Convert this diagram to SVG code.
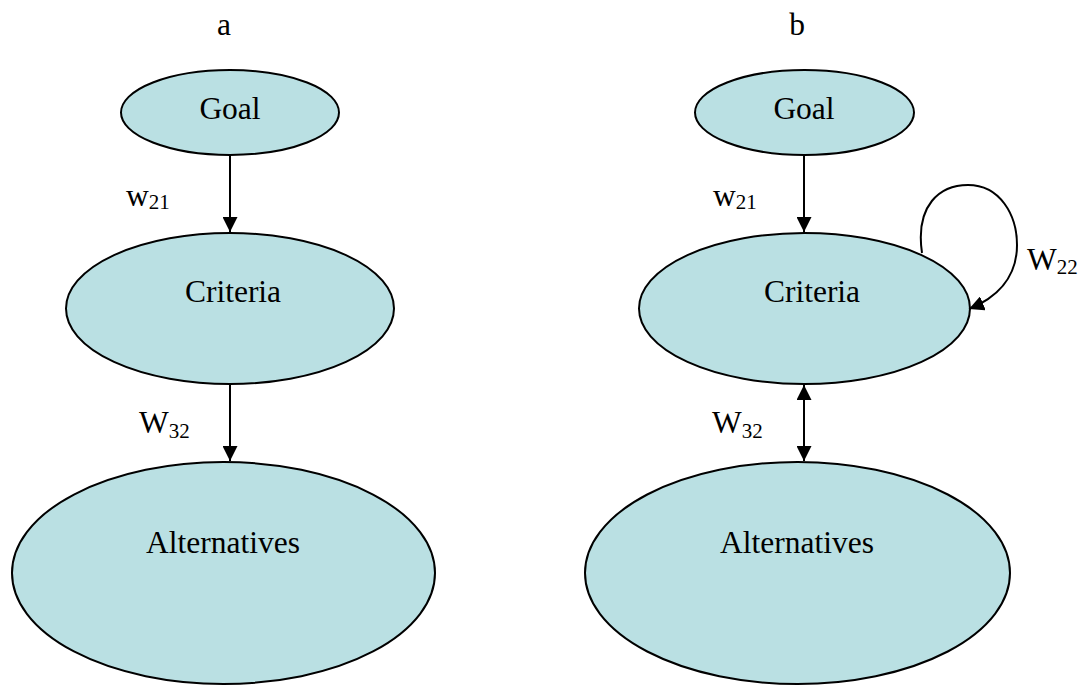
<svg xmlns="http://www.w3.org/2000/svg" width="1080" height="685" viewBox="0 0 1080 685">
<style>
.node{fill:#BAE0E3;stroke:#000;stroke-width:2}
.t{font-family:"Liberation Serif","Times New Roman",serif;font-size:31.5px;fill:#000}
.sub{font-size:21px}
.edge{fill:none;stroke:#000;stroke-width:2}
</style>
<defs>
<marker id="ah" markerUnits="userSpaceOnUse" viewBox="0 0 15 15" refX="15" refY="7.5" markerWidth="15" markerHeight="15" orient="auto-start-reverse">
<path d="M0,0 L15,7.5 L0,15 z" fill="#000"/>
</marker>
</defs>
<rect width="1080" height="685" fill="#fff"/>
<text class="t" x="224" y="35" text-anchor="middle">a</text>
<text class="t" x="797" y="35" text-anchor="middle">b</text>
<g id="a-goal"><ellipse class="node" cx="230" cy="112.5" rx="109" ry="42.5"/><text class="t" x="230" y="119" text-anchor="middle">Goal</text></g>
<g id="a-criteria"><ellipse class="node" cx="230" cy="308.5" rx="164" ry="75.5"/><text class="t" x="233" y="302" text-anchor="middle">Criteria</text></g>
<g id="a-alternatives"><ellipse class="node" cx="223.5" cy="573" rx="211.5" ry="111"/><text class="t" x="223" y="553" text-anchor="middle">Alternatives</text></g>
<g id="b-goal"><ellipse class="node" cx="804.5" cy="112.5" rx="109.5" ry="42.5"/><text class="t" x="804" y="119" text-anchor="middle">Goal</text></g>
<g id="b-criteria"><ellipse class="node" cx="804.5" cy="308.5" rx="165.5" ry="75.5"/><text class="t" x="812" y="302" text-anchor="middle">Criteria</text></g>
<g id="b-alternatives"><ellipse class="node" cx="797.5" cy="573" rx="212.5" ry="111"/><text class="t" x="797" y="553" text-anchor="middle">Alternatives</text></g>
<g id="connectors">
<line class="edge" x1="230" y1="155" x2="230" y2="232" marker-end="url(#ah)"/>
<line class="edge" x1="230" y1="384" x2="230" y2="461" marker-end="url(#ah)"/>
<line class="edge" x1="804" y1="155" x2="804" y2="232" marker-end="url(#ah)"/>
<line class="edge" x1="804" y1="385" x2="804" y2="461" marker-start="url(#ah)" marker-end="url(#ah)"/>
<path class="edge" d="M922,253 C915,205 940,185 968,185 C1000,185 1017,215 1017,245 C1017,278 996,298 969,309" marker-end="url(#ah)"/>
<text class="t" x="126" y="206">w<tspan class="sub" dy="3">21</tspan></text>
<text class="t" x="713" y="206">w<tspan class="sub" dy="3">21</tspan></text>
<text class="t" x="139" y="433">W<tspan class="sub" dy="5">32</tspan></text>
<text class="t" x="712" y="433">W<tspan class="sub" dy="5">32</tspan></text>
<text class="t" x="1027" y="270">W<tspan class="sub" dy="4">22</tspan></text>
</g>
</svg>
